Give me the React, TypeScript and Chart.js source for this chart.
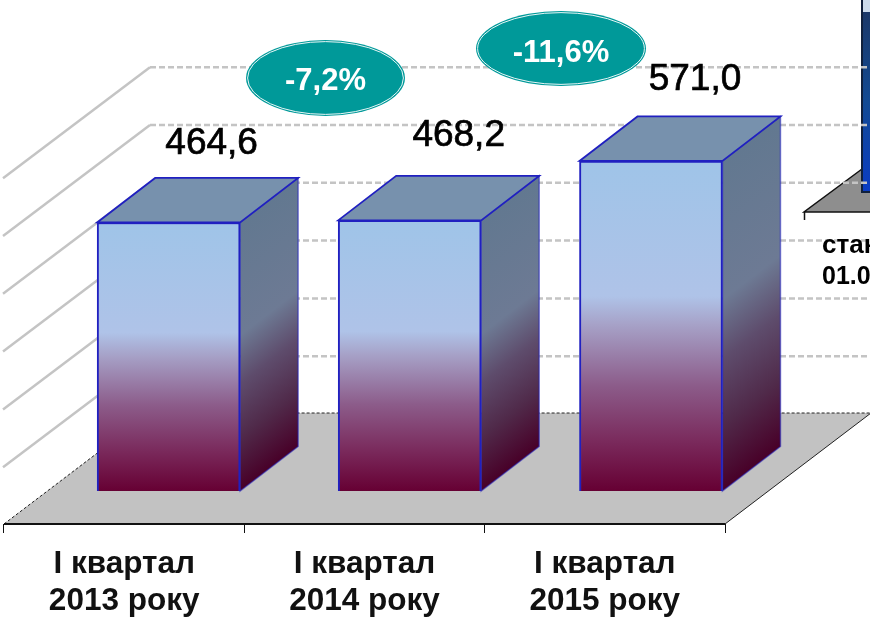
import React, { useEffect, useRef } from "react";
import { Chart, registerables } from "chart.js";

Chart.register(...registerables);

const categories = [["І квартал", "2013 року"], ["І квартал", "2014 року"], ["І квартал", "2015 року"]];
const barPositions = [0.185, 1.188, 2.192];
const barValues = [464.6, 468.2, 571.0];
const barLabels = ["464,6", "468,2", "571,0"];
const gridValues = [100, 200, 300, 400, 500, 600];
const changeLabels = ["-7,2%", "-11,6%"];
const clippedChartLabels = ["стан", "01.0"];

const FONT = '"Liberation Sans", Arial, sans-serif';
const BLUE = "#2020c0";
const DEPTH_X = 58;
const DEPTH_Y = 44.5;
const WALL_X = 146;
const WALL_Y = 111;
const LABEL_OFFSETS = [[43, 68], [49, 74], [44, 71]];
const ELLIPSES = [[325.5, 78, 79.5, 38, 12], [561, 48.5, 85, 37.5, 13.5]];

function stops(g: CanvasGradient, list: [number, string][]) {
  list.forEach(([p, c]) => g.addColorStop(p, c));
  return g;
}

const scene = {
  id: "scene3d",
  beforeDatasetsDraw(chart: any) {
    const { ctx, scales } = chart;
    const { x, y } = scales;
    const frontY = x.top;
    const backY = frontY - WALL_Y;
    const left = x.left;
    const right = x.right;
    ctx.save();
    // floor
    ctx.beginPath();
    ctx.moveTo(left, frontY);
    ctx.lineTo(left + WALL_X, backY);
    ctx.lineTo(right + WALL_X, backY);
    ctx.lineTo(right, frontY);
    ctx.closePath();
    ctx.fillStyle = "#c2c2c2";
    ctx.fill();
    ctx.strokeStyle = "#222";
    ctx.lineWidth = 1;
    ctx.setLineDash([3, 2]);
    ctx.beginPath();
    ctx.moveTo(left, frontY);
    ctx.lineTo(left + WALL_X, backY);
    ctx.lineTo(right + WALL_X, backY);
    ctx.stroke();
    ctx.setLineDash([]);
    ctx.beginPath();
    ctx.moveTo(right + WALL_X, backY);
    ctx.lineTo(right, frontY);
    ctx.stroke();
    // inset floor under the gridlines
    ctx.beginPath();
    ctx.moveTo(804, 212);
    ctx.lineTo(862, 169);
    ctx.lineTo(870, 169);
    ctx.lineTo(870, 212);
    ctx.closePath();
    ctx.fillStyle = "#8e8e8e";
    ctx.fill();
    ctx.strokeStyle = "#111";
    ctx.lineWidth = 1.5;
    ctx.beginPath();
    ctx.moveTo(862, 169);
    ctx.lineTo(804, 212);
    ctx.lineTo(870, 212);
    ctx.moveTo(804.5, 212);
    ctx.lineTo(804.5, 220);
    ctx.stroke();
    // inset panel
    const panel = ctx.createLinearGradient(0, 12, 0, 192);
    stops(panel, [[0, "#1b3868"], [0.5, "#124a94"], [1, "#0a3cc4"]]);
    ctx.fillStyle = panel;
    ctx.fillRect(862, 0, 9, 192);
    ctx.fillStyle = "#ccdbec";
    ctx.fillRect(862, 0, 9, 12);
    ctx.strokeStyle = "#10203c";
    ctx.lineWidth = 2;
    ctx.beginPath();
    ctx.moveTo(862, 0);
    ctx.lineTo(862, 192);
    ctx.lineTo(871, 192);
    ctx.stroke();
    // walls
    gridValues.forEach((v) => {
      const py = y.getPixelForValue(v) - (y.getPixelForValue(0) - backY) + 1;
      ctx.strokeStyle = "#c4c4c4";
      ctx.lineWidth = 2.5;
      ctx.setLineDash([]);
      ctx.beginPath();
      ctx.moveTo(left - 1, py + WALL_Y);
      ctx.lineTo(left + WALL_X, py);
      ctx.stroke();
      ctx.setLineDash([6, 3]);
      ctx.beginPath();
      ctx.moveTo(left + WALL_X, py);
      ctx.lineTo(right + WALL_X, py);
      ctx.stroke();
      ctx.setLineDash([]);
    });
    // bar top and side faces
    chart.getDatasetMeta(0).data.forEach((bar: any) => {
      const xl = bar.x - bar.width / 2;
      const xr = bar.x + bar.width / 2;
      const yt = bar.y;
      const yb = bar.base;
      // the shade runs parallel to the slanted top edge of the face
      const len = Math.hypot(DEPTH_X, DEPTH_Y);
      const nx = DEPTH_Y / len;
      const ny = DEPTH_X / len;
      const span = (yb - yt) * ny;
      const side = ctx.createLinearGradient(xr, yt, xr + nx * span, yt + ny * span);
      stops(side, [
        [0, "#627890"],
        [0.42, "#6d7a94"],
        [0.6, "#5e4c6c"],
        [0.8, "#502a4a"],
        [1, "#480028"],
      ]);
      ctx.fillStyle = side;
      ctx.beginPath();
      ctx.moveTo(xr, yt);
      ctx.lineTo(xr + DEPTH_X, yt - DEPTH_Y);
      ctx.lineTo(xr + DEPTH_X, yb - DEPTH_Y);
      ctx.lineTo(xr, yb);
      ctx.closePath();
      ctx.fill();
      ctx.strokeStyle = "rgba(32,32,192,0.55)";
      ctx.lineWidth = 1.5;
      ctx.stroke();
      ctx.fillStyle = "#7791ad";
      ctx.beginPath();
      ctx.moveTo(xl, yt);
      ctx.lineTo(xl + DEPTH_X, yt - DEPTH_Y);
      ctx.lineTo(xr + DEPTH_X, yt - DEPTH_Y);
      ctx.lineTo(xr, yt);
      ctx.closePath();
      ctx.fill();
      ctx.strokeStyle = BLUE;
      ctx.lineWidth = 1.8;
      ctx.stroke();
    });
    ctx.restore();
  },
  afterDatasetsDraw(chart: any) {
    const { ctx } = chart;
    ctx.save();
    ctx.textAlign = "center";
    ctx.textBaseline = "alphabetic";
    // front edge of the floor
    ctx.strokeStyle = "#111";
    ctx.lineWidth = 2;
    ctx.beginPath();
    ctx.moveTo(chart.scales.x.left, chart.scales.x.top);
    ctx.lineTo(chart.scales.x.right, chart.scales.x.top);
    ctx.stroke();
    // value labels
    ctx.font = `37px ${FONT}`;
    ctx.fillStyle = "#000";
    ctx.strokeStyle = "#000";
    ctx.lineWidth = 0.7;
    chart.getDatasetMeta(0).data.forEach((bar: any, i: number) => {
      ctx.fillText(barLabels[i], bar.x + LABEL_OFFSETS[i][0], bar.y - LABEL_OFFSETS[i][1]);
      ctx.strokeText(barLabels[i], bar.x + LABEL_OFFSETS[i][0], bar.y - LABEL_OFFSETS[i][1]);
    });
    // change ellipses
    ELLIPSES.forEach(([cx, cy, rx, ry, dy], i) => {
      ctx.beginPath();
      ctx.ellipse(cx, cy, rx, ry, 0, 0, Math.PI * 2);
      ctx.fillStyle = "#009999";
      ctx.fill();
      ctx.beginPath();
      ctx.ellipse(cx, cy, rx - 1.6, ry - 1.6, 0, 0, Math.PI * 2);
      ctx.strokeStyle = "#e8f6f6";
      ctx.lineWidth = 1;
      ctx.stroke();
      ctx.fillStyle = "#fff";
      ctx.font = `bold 31px ${FONT}`;
      ctx.fillText(changeLabels[i], cx, cy + dy);
    });
    // labels of the neighbouring chart, cut by the picture's edge
    ctx.textAlign = "left";
    ctx.fillStyle = "#000";
    ctx.font = `bold 26px ${FONT}`;
    ctx.fillText(clippedChartLabels[0], 822, 253);
    ctx.font = `bold 25px ${FONT}`;
    ctx.fillText(clippedChartLabels[1], 822, 284);
    ctx.restore();
  },
};

export default function App() {
  const ref = useRef<HTMLCanvasElement>(null);
  useEffect(() => {
    if (!ref.current) return;
    const chart = new Chart(ref.current, {
      type: "bar",
      data: {
        labels: categories as any,
        datasets: [
          {
            data: barValues.map((v, i) => ({ x: barPositions[i], y: v })) as any,
            xAxisID: "x2",
            yAxisID: "y",
            barThickness: 143,
            borderWidth: 2,
            borderColor: BLUE,
            borderSkipped: "bottom",
            backgroundColor: (c: any) => {
              const s = c.chart.scales.y;
              const v = c.raw?.y;
              const top = s && v !== undefined ? s.getPixelForValue(v) : NaN;
              const bottom = s ? s.getPixelForValue(0) : NaN;
              if (!Number.isFinite(top) || !Number.isFinite(bottom)) return "#8c5c8a";
              const g = c.chart.ctx.createLinearGradient(0, top, 0, bottom);
              return stops(g, [
                [0, "#9fc4e8"],
                [0.41, "#afc3e8"],
                [0.5, "#a6a0c6"],
                [0.68, "#8c5c8a"],
                [0.85, "#7a2a5c"],
                [1, "#660033"],
              ]);
            },
          },
        ],
      },
      options: {
        responsive: false,
        animation: false,
        layout: { padding: { top: 28.6, left: 4, right: 145, bottom: 0 } },
        plugins: { legend: { display: false }, tooltip: { enabled: false } },
        scales: {
          x: {
            type: "category",
            offset: true,
            border: { display: false },
            grid: { drawOnChartArea: false, offset: true, tickLength: 9, tickColor: "#111", tickWidth: 1 },
            ticks: {
              color: "#111",
              maxRotation: 0,
              autoSkip: false,
              padding: 13,
              font: { family: FONT, weight: "bold", size: 31.5, lineHeight: 1.18 },
            },
            afterFit: (s: any) => {
              s.height = 93;
            },
          },
          x2: { type: "linear", display: false, offset: false, min: -0.5, max: 2.5 },
          y: { type: "linear", display: false, min: -57.1, max: 800 },
        },
      } as any,
      plugins: [scene],
    });
    return () => chart.destroy();
  }, []);
  return (
    <div style={{ position: "fixed", left: 0, top: 0, width: 870, height: 617, background: "#fff", overflow: "hidden" }}>
      <canvas ref={ref} width={870} height={617} style={{ display: "block" }} />
    </div>
  );
}
